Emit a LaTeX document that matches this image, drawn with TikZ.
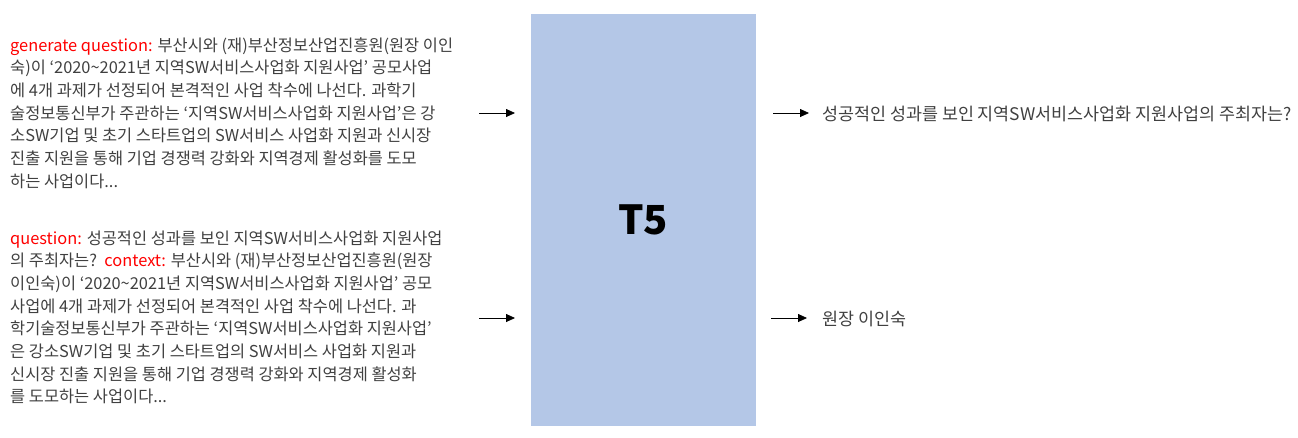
\documentclass[tikz,border=0pt]{standalone}
\usepackage{fontspec}
\setmainfont{Noto Sans CJK KR}
\usetikzlibrary{arrows.meta}
\definecolor{boxblue}{HTML}{B4C7E7}
\definecolor{txtgray}{HTML}{404040}
\definecolor{lblred}{HTML}{FF0000}
\tikzset{
  ln/.style={anchor=base west,inner sep=0pt,text=txtgray,font=\fontsize{16.4}{18}\selectfont},
  outln/.style={ln,font=\fontsize{17.4}{18}\selectfont},
  arr/.style={draw=black,line width=0.8pt,-{Triangle[length=9pt,width=8pt]}},
}
\newcommand{\tl}{\textasciitilde}
\begin{document}
\begin{tikzpicture}[x=1pt,y=-1pt]
\useasboundingbox (0,0) rectangle (1298,437);
% model box
\node[fill=boxblue,minimum width=225pt,minimum height=412pt,inner sep=0pt,anchor=north west] (t5) at (531,14) {};
\node[font=\fontsize{40}{42}\selectfont\bfseries,text=black] (t5lbl) at (643,220) {T5};
% block 1
\node[ln] (a1) at (10,51) {\textcolor{lblred}{generate question:} 부산시와 (재)부산정보산업진흥원(원장 이인};
\node[ln] (a2) at (10,73.7) {숙)이 ‘2020\tl2021년 지역SW서비스사업화 지원사업’ 공모사업};
\node[ln] (a3) at (10,96.4) {에 4개 과제가 선정되어 본격적인 사업 착수에 나선다. 과학기};
\node[ln] (a4) at (10,119.1) {술정보통신부가 주관하는 ‘지역SW서비스사업화 지원사업’은 강};
\node[ln] (a5) at (10,141.8) {소SW기업 및 초기 스타트업의 SW서비스 사업화 지원과 신시장};
\node[ln] (a6) at (10,164.5) {진출 지원을 통해 기업 경쟁력 강화와 지역경제 활성화를 도모};
\node[ln] (a7) at (10,187.2) {하는 사업이다...};
% block 2
\node[ln] (b1) at (10,244) {\textcolor{lblred}{question:} 성공적인 성과를 보인 지역SW서비스사업화 지원사업};
\node[ln] (b2) at (10,266.7) {의 주최자는?\ \ \textcolor{lblred}{context:} 부산시와 (재)부산정보산업진흥원(원장};
\node[ln] (b3) at (10,289.4) {이인숙)이 ‘2020\tl2021년 지역SW서비스사업화 지원사업’ 공모};
\node[ln] (b4) at (10,312.1) {사업에 4개 과제가 선정되어 본격적인 사업 착수에 나선다. 과};
\node[ln] (b5) at (10,334.8) {학기술정보통신부가 주관하는 ‘지역SW서비스사업화 지원사업’};
\node[ln] (b6) at (10,357.5) {은 강소SW기업 및 초기 스타트업의 SW서비스 사업화 지원과};
\node[ln] (b7) at (10,380.2) {신시장 진출 지원을 통해 기업 경쟁력 강화와 지역경제 활성화};
\node[ln] (b8) at (10,402.9) {를 도모하는 사업이다...};
% outputs
\node[outln] (o1) at (822,120) {성공적인 성과를 보인 지역SW서비스사업화 지원사업의 주최자는?};
\node[outln] (o2) at (822,325) {원장 이인숙};
% arrows
\coordinate (i1s) at (479,113);
\coordinate (i1e) at (515,113);
\coordinate (i2s) at (479,318);
\coordinate (i2e) at (515,318);
\coordinate (r1s) at (773,113);
\coordinate (r1e) at (809,113);
\coordinate (r2s) at (771,318);
\coordinate (r2e) at (807,318);
\draw[arr] (i1s) -- (i1e);
\draw[arr] (i2s) -- (i2e);
\draw[arr] (r1s) -- (r1e);
\draw[arr] (r2s) -- (r2e);
\end{tikzpicture}
\end{document}
